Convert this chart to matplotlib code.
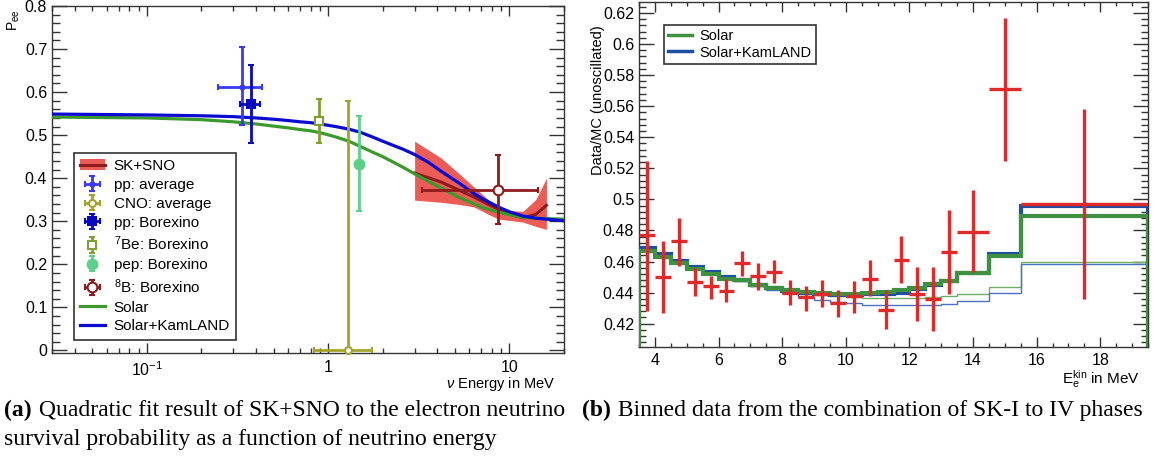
import matplotlib
matplotlib.use('Agg')
import matplotlib.pyplot as plt
from matplotlib.lines import Line2D
from matplotlib.ticker import FixedLocator, FuncFormatter, MultipleLocator, NullFormatter

plt.rcParams['font.family'] = ['Liberation Sans', 'DejaVu Sans']
plt.rcParams['mathtext.fontset'] = 'custom'
plt.rcParams['mathtext.rm'] = 'Liberation Sans'
plt.rcParams['mathtext.it'] = 'Liberation Sans:italic'

# ---------------- Panel (a) data ----------------
curve_E = [0.03, 0.1, 0.2, 0.3, 0.4, 0.5, 0.6, 0.7, 0.8, 0.9, 1.1, 1.3, 1.5, 1.75, 2.0, 2.2,
           2.6, 3.0, 3.6, 4.2, 5.3, 6.4, 7.2, 8.7, 10.0, 11.9, 14.0, 16.0, 20.0]
solar_kl_P = [0.549, 0.547, 0.545, 0.543, 0.540, 0.537, 0.534, 0.531, 0.529, 0.526, 0.520,
              0.514, 0.507, 0.496, 0.486, 0.479, 0.467, 0.455, 0.436, 0.416, 0.388, 0.364,
              0.351, 0.333, 0.322, 0.312, 0.307, 0.305, 0.301]
solar_P = [0.542, 0.540, 0.536, 0.531, 0.526, 0.521, 0.517, 0.513, 0.510, 0.506, 0.496,
           0.486, 0.474, 0.461, 0.450, 0.441, 0.425, 0.410, 0.392, 0.377, 0.355, 0.340,
           0.331, 0.321, 0.315, 0.309, 0.307, 0.306, 0.305]

band_E = [3.0, 4.2, 5.3, 6.4, 7.5, 8.7, 10.0, 11.9, 14.0, 16.0]
band_mid = [0.412, 0.391, 0.372, 0.356, 0.341, 0.328, 0.317, 0.308, 0.316, 0.337]
band_hi = [0.486, 0.447, 0.410, 0.379, 0.353, 0.330, 0.325, 0.323, 0.351, 0.400]
band_lo = [0.349, 0.344, 0.339, 0.333, 0.318, 0.305, 0.302, 0.298, 0.288, 0.281]

pt_labels = ["pp: average", "CNO: average", "pp: Borexino",
             r"$^{7}$Be: Borexino", "pep: Borexino", r"$^{8}$B: Borexino"]
pt_E = [0.335, 1.29, 0.375, 0.89, 1.48, 8.7]
pt_E_lo = [0.247, 0.84, 0.327, 0.89, 1.48, 3.3]
pt_E_hi = [0.43, 1.75, 0.42, 0.89, 1.48, 14.3]
pt_P = [0.612, 0.0, 0.572, 0.533, 0.433, 0.372]
pt_P_lo = [0.523, 0.0, 0.481, 0.481, 0.323, 0.293]
pt_P_hi = [0.705, 0.58, 0.663, 0.584, 0.544, 0.453]

# ---------------- Panel (b) data ----------------
bin_edges = [3.5, 4.0, 4.5, 5.0, 5.5, 6.0, 6.5, 7.0, 7.5, 8.0, 8.5, 9.0, 9.5, 10.0,
             10.5, 11.0, 11.5, 12.0, 12.5, 13.0, 13.5, 14.5, 15.5, 19.5]
data_val = [0.477, 0.450, 0.473, 0.447, 0.444, 0.441, 0.459, 0.4505, 0.453, 0.440, 0.437,
            0.439, 0.433, 0.4375, 0.449, 0.429, 0.461, 0.439, 0.436, 0.466, 0.479, 0.571, 0.497]
data_hi = [0.525, 0.473, 0.488, 0.456, 0.451, 0.449, 0.467, 0.459, 0.461, 0.448, 0.444,
           0.448, 0.442, 0.4475, 0.461, 0.442, 0.4765, 0.4566, 0.4566, 0.493, 0.506, 0.617, 0.558]
data_lo = [0.428, 0.427, 0.457, 0.4375, 0.436, 0.434, 0.451, 0.442, 0.446, 0.432, 0.428,
           0.431, 0.424, 0.427, 0.438, 0.4166, 0.446, 0.422, 0.415, 0.439, 0.4533, 0.525, 0.436]
solar_kl_bins = [0.469, 0.4648, 0.4603, 0.4566, 0.4533, 0.450, 0.448, 0.4451, 0.4432, 0.4408,
                 0.440, 0.4393, 0.4386, 0.4386, 0.4393, 0.4393, 0.440, 0.4425, 0.4447, 0.4475,
                 0.4527, 0.4648, 0.4955]
solar_bins = [0.4668, 0.4627, 0.4588, 0.4551, 0.4518, 0.449, 0.448, 0.4447, 0.4432, 0.4414,
              0.4403, 0.4397, 0.4393, 0.4393, 0.440, 0.4403, 0.4414, 0.4432, 0.4453, 0.4475,
              0.4523, 0.4635, 0.4895]
thin_green_bins = [0.4668, 0.4627, 0.4588, 0.4551, 0.4518, 0.449, 0.4475, 0.4443, 0.4425,
                   0.4405, 0.4392, 0.4385, 0.4375, 0.437, 0.4367, 0.4365, 0.4365, 0.4365,
                   0.437, 0.4377, 0.4393, 0.4436, 0.4598]
thin_blue_bins = [0.4685, 0.4645, 0.460, 0.456, 0.453, 0.4495, 0.4475, 0.4445, 0.442, 0.4395,
                  0.437, 0.435, 0.434, 0.433, 0.432, 0.4318, 0.4318, 0.432, 0.4322, 0.4328,
                  0.4345, 0.440, 0.4581]

W, H = 1160, 461
fig = plt.figure(figsize=(W / 100, H / 100), dpi=100)


def ax_rect(x0, y0, x1, y1):
    return [x0 / W, 1 - y1 / H, (x1 - x0) / W, (y1 - y0) / H]


tick_col = '#333333'

# ================= Panel (a) =================
ax1 = fig.add_axes(ax_rect(52, 6, 564, 353))
ax1.set_xscale('log')
ax1.set_xlim(0.03, 20)
ax1.set_ylim(-0.006, 0.8)

band_fill = ax1.fill_between(band_E, band_lo, band_hi, color='#ec5c57', lw=0, zorder=2)
band_line, = ax1.plot(band_E, band_mid, color='#8e1b1b', lw=2.2, zorder=3)
l_solar, = ax1.plot(curve_E, solar_P, color='#3c9a2c', lw=2.3, zorder=4)
l_kl, = ax1.plot(curve_E, solar_kl_P, color='#0a0ad0', lw=2.3, zorder=4)

pt_colors = ['#3a3af5', '#a3a32a', '#0808c0', '#7ea02e', '#5ccf8a', '#8e1b1b']
pt_markers = ['o', 'o', 's', 's', 'o', 'o']
pt_ms = [3, 5, 6, 6, 7, 7]
pt_mfc = [None, 'white', None, 'white', None, 'white']
handles_pts = []
for i in range(len(pt_E)):
    xerr = [[pt_E[i] - pt_E_lo[i]], [pt_E_hi[i] - pt_E[i]]]
    if pt_E_lo[i] == pt_E_hi[i]:
        xerr = None
    yerr = [[pt_P[i] - pt_P_lo[i]], [pt_P_hi[i] - pt_P[i]]]
    c = pt_colors[i]
    eb = ax1.errorbar([pt_E[i]], [pt_P[i]], xerr=xerr, yerr=yerr, fmt=pt_markers[i],
                      color=c, ms=pt_ms[i], mfc=(pt_mfc[i] or c), mec=c, mew=1.5,
                      elinewidth=2.0, capsize=2.5, capthick=2.0, zorder=6,
                      label=pt_labels[i], clip_on=False)
    handles_pts.append(eb)

ax1.xaxis.set_major_locator(FixedLocator([0.1, 1, 10]))
ax1.xaxis.set_major_formatter(FuncFormatter(
    lambda v, p: {0.1: r'$10^{-1}$', 1: '1', 10: '10'}.get(round(v, 3), '')))
minors = [m * d for d in (0.01, 0.1, 1, 10) for m in range(2, 10)]
ax1.xaxis.set_minor_locator(FixedLocator(minors))
ax1.xaxis.set_minor_formatter(NullFormatter())
ax1.yaxis.set_major_locator(MultipleLocator(0.1))
ax1.yaxis.set_minor_locator(MultipleLocator(0.02))
ax1.yaxis.set_major_formatter(FuncFormatter(lambda v, p: '0' if abs(v) < 1e-9 else f'{v:.1f}'))
ax1.tick_params(axis='both', which='both', direction='in', top=True, right=True,
                colors=tick_col, labelcolor='black', labelsize=11.5)
ax1.tick_params(axis='y', which='major', length=11, width=1)
ax1.tick_params(axis='y', which='minor', length=5.5, width=1)
ax1.tick_params(axis='x', which='major', length=7, width=1, pad=5)
ax1.tick_params(axis='x', which='minor', length=3.6, width=1)
for s in ax1.spines.values():
    s.set_color(tick_col)
    s.set_linewidth(1.0)

fig.text(14 / W, 1 - 20 / H, r'P$_{\mathrm{ee}}$', rotation=90, fontsize=10,
         ha='center', va='center')
fig.text(555 / W, 1 - 384 / H, r'$\nu$ Energy in MeV', fontsize=10.5,
         ha='right', va='center')

leg1_handles = [(band_fill, band_line)] + handles_pts + [l_solar, l_kl]
leg1_labels = ['SK+SNO'] + pt_labels + ['Solar', 'Solar+KamLAND']
leg1 = ax1.legend(leg1_handles, leg1_labels, loc='upper left',
                  bbox_to_anchor=(74 / W, 1 - 153 / H), bbox_transform=fig.transFigure,
                  fontsize=11, frameon=True, fancybox=False, edgecolor='#333333',
                  borderaxespad=0, borderpad=0.4, labelspacing=0.32,
                  handlelength=1.6, handletextpad=0.6, framealpha=1)
leg1.get_frame().set_linewidth(1.2)

# ================= Panel (b) =================
ax2 = fig.add_axes(ax_rect(639, 2, 1148, 347))
ax2.set_xlim(3.5, 19.5)
ax2.set_ylim(0.405, 0.627)

ax2.stairs(thin_green_bins, bin_edges, color='#6fae66', lw=1.0, zorder=2)
ax2.stairs(thin_blue_bins, bin_edges, color='#4a72c0', lw=1.0, zorder=2)
s_kl = ax2.stairs(solar_kl_bins, bin_edges, color='#1d4fa3', lw=3.0, zorder=3)
s_sol = ax2.stairs(solar_bins, bin_edges, color='#3e9140', lw=3.0, zorder=4)

centers = [(bin_edges[i] + bin_edges[i + 1]) / 2 for i in range(len(data_val))]
halfw = [(bin_edges[i + 1] - bin_edges[i]) / 2 for i in range(len(data_val))]
yerr2 = [[data_val[i] - data_lo[i] for i in range(len(data_val))],
         [data_hi[i] - data_val[i] for i in range(len(data_val))]]
ax2.errorbar(centers, data_val, xerr=halfw, yerr=yerr2, fmt='none', ecolor='#e02a2a',
             elinewidth=2.4, capsize=0, zorder=5)

ax2.xaxis.set_major_locator(MultipleLocator(2))
ax2.xaxis.set_minor_locator(MultipleLocator(0.5))
ax2.yaxis.set_major_locator(MultipleLocator(0.02))
ax2.yaxis.set_minor_locator(MultipleLocator(0.004))
ax2.xaxis.set_major_formatter(FuncFormatter(lambda v, p: f'{v:g}'))
ax2.yaxis.set_major_formatter(FuncFormatter(lambda v, p: f'{round(v, 3):g}'))
ax2.tick_params(axis='both', which='both', direction='in', top=True, right=True,
                colors=tick_col, labelcolor='black', labelsize=11.5)
ax2.tick_params(axis='y', which='major', length=10.5, width=1)
ax2.tick_params(axis='y', which='minor', length=5.2, width=1)
ax2.tick_params(axis='x', which='major', length=7, width=1, pad=4)
ax2.tick_params(axis='x', which='minor', length=3.2, width=1)
for s in ax2.spines.values():
    s.set_color(tick_col)
    s.set_linewidth(1.0)

fig.text(598 / W, 1 - 100 / H, 'Data/MC (unoscillated)', rotation=90, fontsize=10.5,
         ha='center', va='center')
fig.text(1140 / W, 1 - 379 / H, r'E$_{\mathrm{e}}^{\mathrm{kin}}$ in MeV', fontsize=11,
         ha='right', va='center')

leg2 = ax2.legend([Line2D([], [], color='#3e9140', lw=2.5),
                   Line2D([], [], color='#1d4fa3', lw=2.5)],
                  ['Solar', 'Solar+KamLAND'], loc='upper left',
                  bbox_to_anchor=(664 / W, 1 - 25 / H), bbox_transform=fig.transFigure,
                  fontsize=10.5, frameon=True, fancybox=False, edgecolor='#333333',
                  borderaxespad=0, borderpad=0.3, labelspacing=0.15,
                  handlelength=1.6, handletextpad=0.5, framealpha=1)
leg2.get_frame().set_linewidth(1.2)

# ================= Captions =================
cap_font = ['Liberation Serif', 'DejaVu Serif']
fs_cap = 17
renderer = fig.canvas.get_renderer()


def caption(x, y, tag, body):
    t = fig.text(x / W, 1 - y / H, tag, fontsize=fs_cap, family=cap_font,
                 fontweight='bold', ha='left', va='center')
    bb = t.get_window_extent(renderer=renderer)
    fig.text((bb.x1 + 1) / W, 1 - y / H, ' ' + body, fontsize=fs_cap, family=cap_font,
             ha='left', va='center')


caption(4, 410, '(a)', 'Quadratic fit result of SK+SNO to the electron neutrino')
fig.text(4 / W, 1 - 439 / H, 'survival probability as a function of neutrino energy',
         fontsize=fs_cap, family=cap_font, ha='left', va='center')
caption(582, 410, '(b)', 'Binned data from the combination of SK-I to IV phases')

fig.savefig('out.png', dpi=100)
